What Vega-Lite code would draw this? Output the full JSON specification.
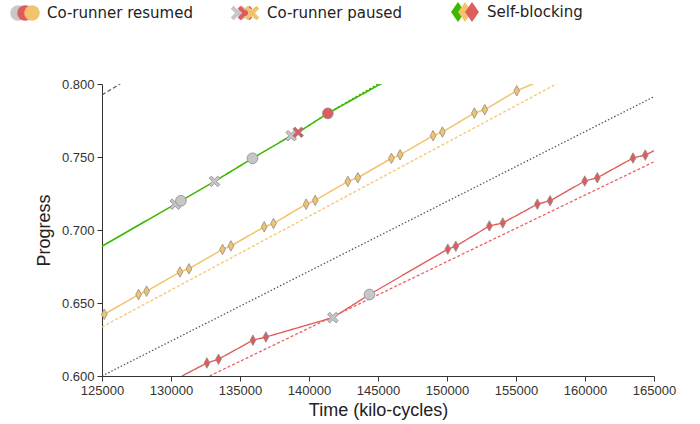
{
  "$schema": "https://vega.github.io/schema/vega-lite/v6.json",
  "width": 552,
  "height": 292,
  "autosize": {"type": "none"},
  "padding": {"left": 102, "top": 84, "right": 46, "bottom": 48},
  "background": "white",
  "config": {
    "view": {"stroke": null},
    "axis": {
      "grid": false,
      "domainColor": "#333333",
      "tickColor": "#333333",
      "labelColor": "#333333",
      "titleColor": "#222222",
      "labelFont": "Liberation Sans",
      "titleFont": "Liberation Sans",
      "labelFontSize": 13,
      "titleFontSize": 18,
      "titleFontWeight": "normal",
      "tickSize": 5,
      "labelPadding": 3,
      "labelFlush": false,
      "labelOverlap": false
    },
    "legend": {
      "orient": "none",
      "legendY": -80,
      "direction": "horizontal",
      "columns": 3,
      "gridAlign": "all",
      "title": null,
      "padding": 0,
      "symbolSize": 240,
      "symbolStrokeWidth": 0,
      "symbolOpacity": 1,
      "labelFont": "DejaVu Sans",
      "labelFontSize": 15,
      "labelColor": "#222222",
      "labelLimit": 400
    }
  },
  "datasets": {
    "lines": [
      {"line": "A", "t": 125000, "p": 0.6889},
      {"line": "A", "t": 130309, "p": 0.7177},
      {"line": "A", "t": 130721, "p": 0.7200},
      {"line": "A", "t": 133155, "p": 0.7333},
      {"line": "A", "t": 135907, "p": 0.7491},
      {"line": "A", "t": 138710, "p": 0.7646},
      {"line": "A", "t": 139216, "p": 0.7669},
      {"line": "A", "t": 141367, "p": 0.7799},
      {"line": "A", "t": 145278, "p": 0.8005},
      {"line": "A ideal", "t": 141367, "p": 0.7799},
      {"line": "A ideal", "t": 145100, "p": 0.8005},
      {"line": "B", "t": 125167, "p": 0.6423},
      {"line": "B", "t": 127651, "p": 0.6558},
      {"line": "B", "t": 128230, "p": 0.6581},
      {"line": "B", "t": 130649, "p": 0.6713},
      {"line": "B", "t": 131301, "p": 0.6734},
      {"line": "B", "t": 133734, "p": 0.6867},
      {"line": "B", "t": 134342, "p": 0.6891},
      {"line": "B", "t": 136754, "p": 0.7022},
      {"line": "B", "t": 137428, "p": 0.7045},
      {"line": "B", "t": 139796, "p": 0.7177},
      {"line": "B", "t": 140448, "p": 0.7203},
      {"line": "B", "t": 142816, "p": 0.7333},
      {"line": "B", "t": 143540, "p": 0.7358},
      {"line": "B", "t": 145973, "p": 0.7491},
      {"line": "B", "t": 146603, "p": 0.7515},
      {"line": "B", "t": 148993, "p": 0.7646},
      {"line": "B", "t": 149667, "p": 0.7671},
      {"line": "B", "t": 151984, "p": 0.7801},
      {"line": "B", "t": 152737, "p": 0.7824},
      {"line": "B", "t": 155055, "p": 0.7954},
      {"line": "B", "t": 156380, "p": 0.8007},
      {"line": "B ideal", "t": 125000, "p": 0.6336},
      {"line": "B ideal", "t": 158024, "p": 0.8005},
      {"line": "C", "t": 130794, "p": 0.6000},
      {"line": "C", "t": 132604, "p": 0.6089},
      {"line": "C", "t": 133444, "p": 0.6115},
      {"line": "C", "t": 135936, "p": 0.6245},
      {"line": "C", "t": 136877, "p": 0.6267},
      {"line": "C", "t": 141729, "p": 0.6400},
      {"line": "C", "t": 144380, "p": 0.6558},
      {"line": "C", "t": 150058, "p": 0.6869},
      {"line": "C", "t": 150637, "p": 0.6889},
      {"line": "C", "t": 153071, "p": 0.7028},
      {"line": "C", "t": 154041, "p": 0.7048},
      {"line": "C", "t": 156547, "p": 0.7177},
      {"line": "C", "t": 157467, "p": 0.7200},
      {"line": "C", "t": 159980, "p": 0.7335},
      {"line": "C", "t": 160892, "p": 0.7358},
      {"line": "C", "t": 163478, "p": 0.7493},
      {"line": "C", "t": 164369, "p": 0.7513},
      {"line": "C", "t": 165000, "p": 0.7543},
      {"line": "C ideal", "t": 132793, "p": 0.6000},
      {"line": "C ideal", "t": 165000, "p": 0.7467},
      {"line": "baseline", "t": 125000, "p": 0.6000},
      {"line": "baseline", "t": 165000, "p": 0.7913},
      {"line": "reference", "t": 125000, "p": 0.7925},
      {"line": "reference", "t": 126376, "p": 0.8005}
    ],
    "markers": [
      {"t": 130309, "p": 0.7177, "event": "paused", "task": "other"},
      {"t": 130721, "p": 0.7200, "event": "resumed", "task": "other"},
      {"t": 133155, "p": 0.7333, "event": "paused", "task": "other"},
      {"t": 135907, "p": 0.7491, "event": "resumed", "task": "other"},
      {"t": 138710, "p": 0.7646, "event": "paused", "task": "other"},
      {"t": 139216, "p": 0.7669, "event": "paused", "task": "C"},
      {"t": 141367, "p": 0.7799, "event": "resumed", "task": "C"},
      {"t": 125167, "p": 0.6423, "event": "blocking", "task": "B"},
      {"t": 127651, "p": 0.6558, "event": "blocking", "task": "B"},
      {"t": 128230, "p": 0.6581, "event": "blocking", "task": "B"},
      {"t": 130649, "p": 0.6713, "event": "blocking", "task": "B"},
      {"t": 131301, "p": 0.6734, "event": "blocking", "task": "B"},
      {"t": 133734, "p": 0.6867, "event": "blocking", "task": "B"},
      {"t": 134342, "p": 0.6891, "event": "blocking", "task": "B"},
      {"t": 136754, "p": 0.7022, "event": "blocking", "task": "B"},
      {"t": 137428, "p": 0.7045, "event": "blocking", "task": "B"},
      {"t": 139796, "p": 0.7177, "event": "blocking", "task": "B"},
      {"t": 140448, "p": 0.7203, "event": "blocking", "task": "B"},
      {"t": 142816, "p": 0.7333, "event": "blocking", "task": "B"},
      {"t": 143540, "p": 0.7358, "event": "blocking", "task": "B"},
      {"t": 145973, "p": 0.7491, "event": "blocking", "task": "B"},
      {"t": 146603, "p": 0.7515, "event": "blocking", "task": "B"},
      {"t": 148993, "p": 0.7646, "event": "blocking", "task": "B"},
      {"t": 149667, "p": 0.7671, "event": "blocking", "task": "B"},
      {"t": 151984, "p": 0.7801, "event": "blocking", "task": "B"},
      {"t": 152737, "p": 0.7824, "event": "blocking", "task": "B"},
      {"t": 155055, "p": 0.7954, "event": "blocking", "task": "B"},
      {"t": 132604, "p": 0.6089, "event": "blocking", "task": "C"},
      {"t": 133444, "p": 0.6115, "event": "blocking", "task": "C"},
      {"t": 135936, "p": 0.6245, "event": "blocking", "task": "C"},
      {"t": 136877, "p": 0.6267, "event": "blocking", "task": "C"},
      {"t": 141729, "p": 0.6400, "event": "paused", "task": "other"},
      {"t": 144380, "p": 0.6558, "event": "resumed", "task": "other"},
      {"t": 150058, "p": 0.6869, "event": "blocking", "task": "C"},
      {"t": 150637, "p": 0.6889, "event": "blocking", "task": "C"},
      {"t": 153071, "p": 0.7028, "event": "blocking", "task": "C"},
      {"t": 154041, "p": 0.7048, "event": "blocking", "task": "C"},
      {"t": 156547, "p": 0.7177, "event": "blocking", "task": "C"},
      {"t": 157467, "p": 0.7200, "event": "blocking", "task": "C"},
      {"t": 159980, "p": 0.7335, "event": "blocking", "task": "C"},
      {"t": 160892, "p": 0.7358, "event": "blocking", "task": "C"},
      {"t": 163478, "p": 0.7493, "event": "blocking", "task": "C"},
      {"t": 164369, "p": 0.7513, "event": "blocking", "task": "C"}
    ],
    "legendEntries": [
      {"entry": "Co-runner resumed"},
      {"entry": "Co-runner paused"},
      {"entry": "Self-blocking"}
    ]
  },
  "layer": [
    {
      "data": {"name": "lines"},
      "mark": {"type": "line", "clip": true},
      "encoding": {
        "x": {
          "field": "t", "type": "quantitative",
          "scale": {"domain": [125000, 165000], "nice": false, "zero": false},
          "axis": {"title": "Time (kilo-cycles)", "values": [125000, 130000, 135000, 140000, 145000, 150000, 155000, 160000, 165000], "format": "d", "titlePadding": 4}
        },
        "y": {
          "field": "p", "type": "quantitative",
          "scale": {"domain": [0.6, 0.8], "nice": false, "zero": false},
          "axis": {"title": "Progress", "values": [0.6, 0.625, 0.65, 0.675, 0.7, 0.725, 0.75, 0.775, 0.8], "format": ".3f", "titlePadding": 8}
        },
        "color": {
          "field": "line", "type": "nominal", "legend": null,
          "scale": {
            "domain": ["A", "A ideal", "B", "B ideal", "C", "C ideal", "baseline", "reference"],
            "range": ["#3cb800", "#3cb800", "#f2c36c", "#f7c978", "#e05c5c", "#ea6464", "#555555", "#555555"]
          }
        },
        "strokeDash": {
          "field": "line", "type": "nominal", "legend": null,
          "scale": {
            "domain": ["A", "A ideal", "B", "B ideal", "C", "C ideal", "baseline", "reference"],
            "range": [[1, 0], [2, 2], [1, 0], [3, 2], [1, 0], [3, 2], [1.5, 2], [4, 2.5]]
          }
        },
        "strokeWidth": {
          "field": "line", "type": "nominal", "legend": null,
          "scale": {
            "domain": ["A", "A ideal", "B", "B ideal", "C", "C ideal", "baseline", "reference"],
            "range": [1.6, 1.2, 1.6, 1, 1.6, 1, 1, 1]
          }
        }
      }
    },
    {
      "data": {"name": "markers"},
      "mark": {"type": "point", "filled": true, "opacity": 1, "stroke": "#8c8c8c", "strokeWidth": 0.8},
      "encoding": {
        "x": {"field": "t", "type": "quantitative"},
        "y": {"field": "p", "type": "quantitative"},
        "fill": {
          "field": "task", "type": "nominal", "legend": null,
          "scale": {"domain": ["B", "C", "other"], "range": ["#f2c36c", "#e05c5c", "#c6c6c6"]}
        },
        "shape": {
          "field": "event", "type": "nominal", "legend": null,
          "scale": {
            "domain": ["resumed", "paused", "blocking"],
            "range": ["circle", "M-1,-0.6L-0.6,-1L0,-0.4L0.6,-1L1,-0.6L0.4,0L1,0.6L0.6,1L0,0.4L-0.6,1L-1,0.6L-0.4,0Z", "M0,-1L0.55,0L0,1L-0.55,0Z"]
          }
        },
        "size": {
          "field": "event", "type": "nominal", "legend": null,
          "scale": {"domain": ["resumed", "paused", "blocking"], "range": [115, 110, 100]}
        }
      }
    },
    {
      "data": {"name": "legendEntries"},
      "transform": [{"filter": "false"}],
      "mark": {"type": "point", "filled": true, "opacity": 1, "size": 240},
      "encoding": {
        "fill": {
          "field": "entry", "type": "nominal",
          "scale": {"domain": ["Co-runner resumed", "Co-runner paused", "Self-blocking"], "range": ["#c8c8c8", "#c8c8c8", "#3cb800"]},
          "legend": {"legendX": -92, "labelExpr": "''", "labelOffset": 0, "columnPadding": 204, "gridAlign": "each", "encode": {"symbols": {"update": {"size": {"value": 240}}}}}
        },
        "shape": {
          "field": "entry", "type": "nominal",
          "scale": {"domain": ["Co-runner resumed", "Co-runner paused", "Self-blocking"], "range": ["circle", "M-0.95,-0.57L-0.57,-0.95L0,-0.38L0.57,-0.95L0.95,-0.57L0.38,0L0.95,0.57L0.57,0.95L0,0.38L-0.57,0.95L-0.95,0.57L-0.38,0Z", "M0,-1.29L0.9,0L0,1.29L-0.9,0Z"]},
          "legend": {"legendX": -92, "labelExpr": "''", "labelOffset": 0, "columnPadding": 204, "gridAlign": "each", "encode": {"symbols": {"update": {"size": {"value": 240}}}}}
        }
      }
    },
    {
      "data": {"name": "legendEntries"},
      "transform": [{"filter": "false"}],
      "mark": {"type": "point", "filled": true, "opacity": 1, "size": 240},
      "encoding": {
        "fill": {
          "field": "entry", "type": "nominal",
          "scale": {"domain": ["Co-runner resumed", "Co-runner paused", "Self-blocking"], "range": ["#e05c5c", "#e05c5c", "#f2c36c"]},
          "legend": {"legendX": -85, "labelExpr": "''", "labelOffset": 0, "columnPadding": 204, "gridAlign": "each", "encode": {"symbols": {"update": {"size": {"value": 240}}}}}
        },
        "shape": {
          "field": "entry", "type": "nominal",
          "scale": {"domain": ["Co-runner resumed", "Co-runner paused", "Self-blocking"], "range": ["circle", "M-0.95,-0.57L-0.57,-0.95L0,-0.38L0.57,-0.95L0.95,-0.57L0.38,0L0.95,0.57L0.57,0.95L0,0.38L-0.57,0.95L-0.95,0.57L-0.38,0Z", "M0,-1.29L0.9,0L0,1.29L-0.9,0Z"]},
          "legend": {"legendX": -85, "labelExpr": "''", "labelOffset": 0, "columnPadding": 204, "gridAlign": "each", "encode": {"symbols": {"update": {"size": {"value": 240}}}}}
        }
      }
    },
    {
      "data": {"name": "legendEntries"},
      "transform": [{"filter": "false"}],
      "mark": {"type": "point", "filled": true, "opacity": 1, "size": 240},
      "encoding": {
        "fill": {
          "field": "entry", "type": "nominal",
          "scale": {"domain": ["Co-runner resumed", "Co-runner paused", "Self-blocking"], "range": ["#f2c36c", "#f2c36c", "#e05c5c"]},
          "legend": {"legendX": -78, "labelOffset": 7, "columnPadding": 51, "gridAlign": "all", "encode": {"symbols": {"update": {"size": {"value": 240}}}}}
        },
        "shape": {
          "field": "entry", "type": "nominal",
          "scale": {"domain": ["Co-runner resumed", "Co-runner paused", "Self-blocking"], "range": ["circle", "M-0.95,-0.57L-0.57,-0.95L0,-0.38L0.57,-0.95L0.95,-0.57L0.38,0L0.95,0.57L0.57,0.95L0,0.38L-0.57,0.95L-0.95,0.57L-0.38,0Z", "M0,-1.29L0.9,0L0,1.29L-0.9,0Z"]},
          "legend": {"legendX": -78, "labelOffset": 7, "columnPadding": 51, "gridAlign": "all", "encode": {"symbols": {"update": {"size": {"value": 240}}}}}
        }
      }
    }
  ],
  "resolve": {
    "scale": {"fill": "independent", "shape": "independent", "size": "independent", "color": "independent", "strokeDash": "independent", "strokeWidth": "independent"},
    "legend": {"fill": "independent", "shape": "independent"}
  }
}
